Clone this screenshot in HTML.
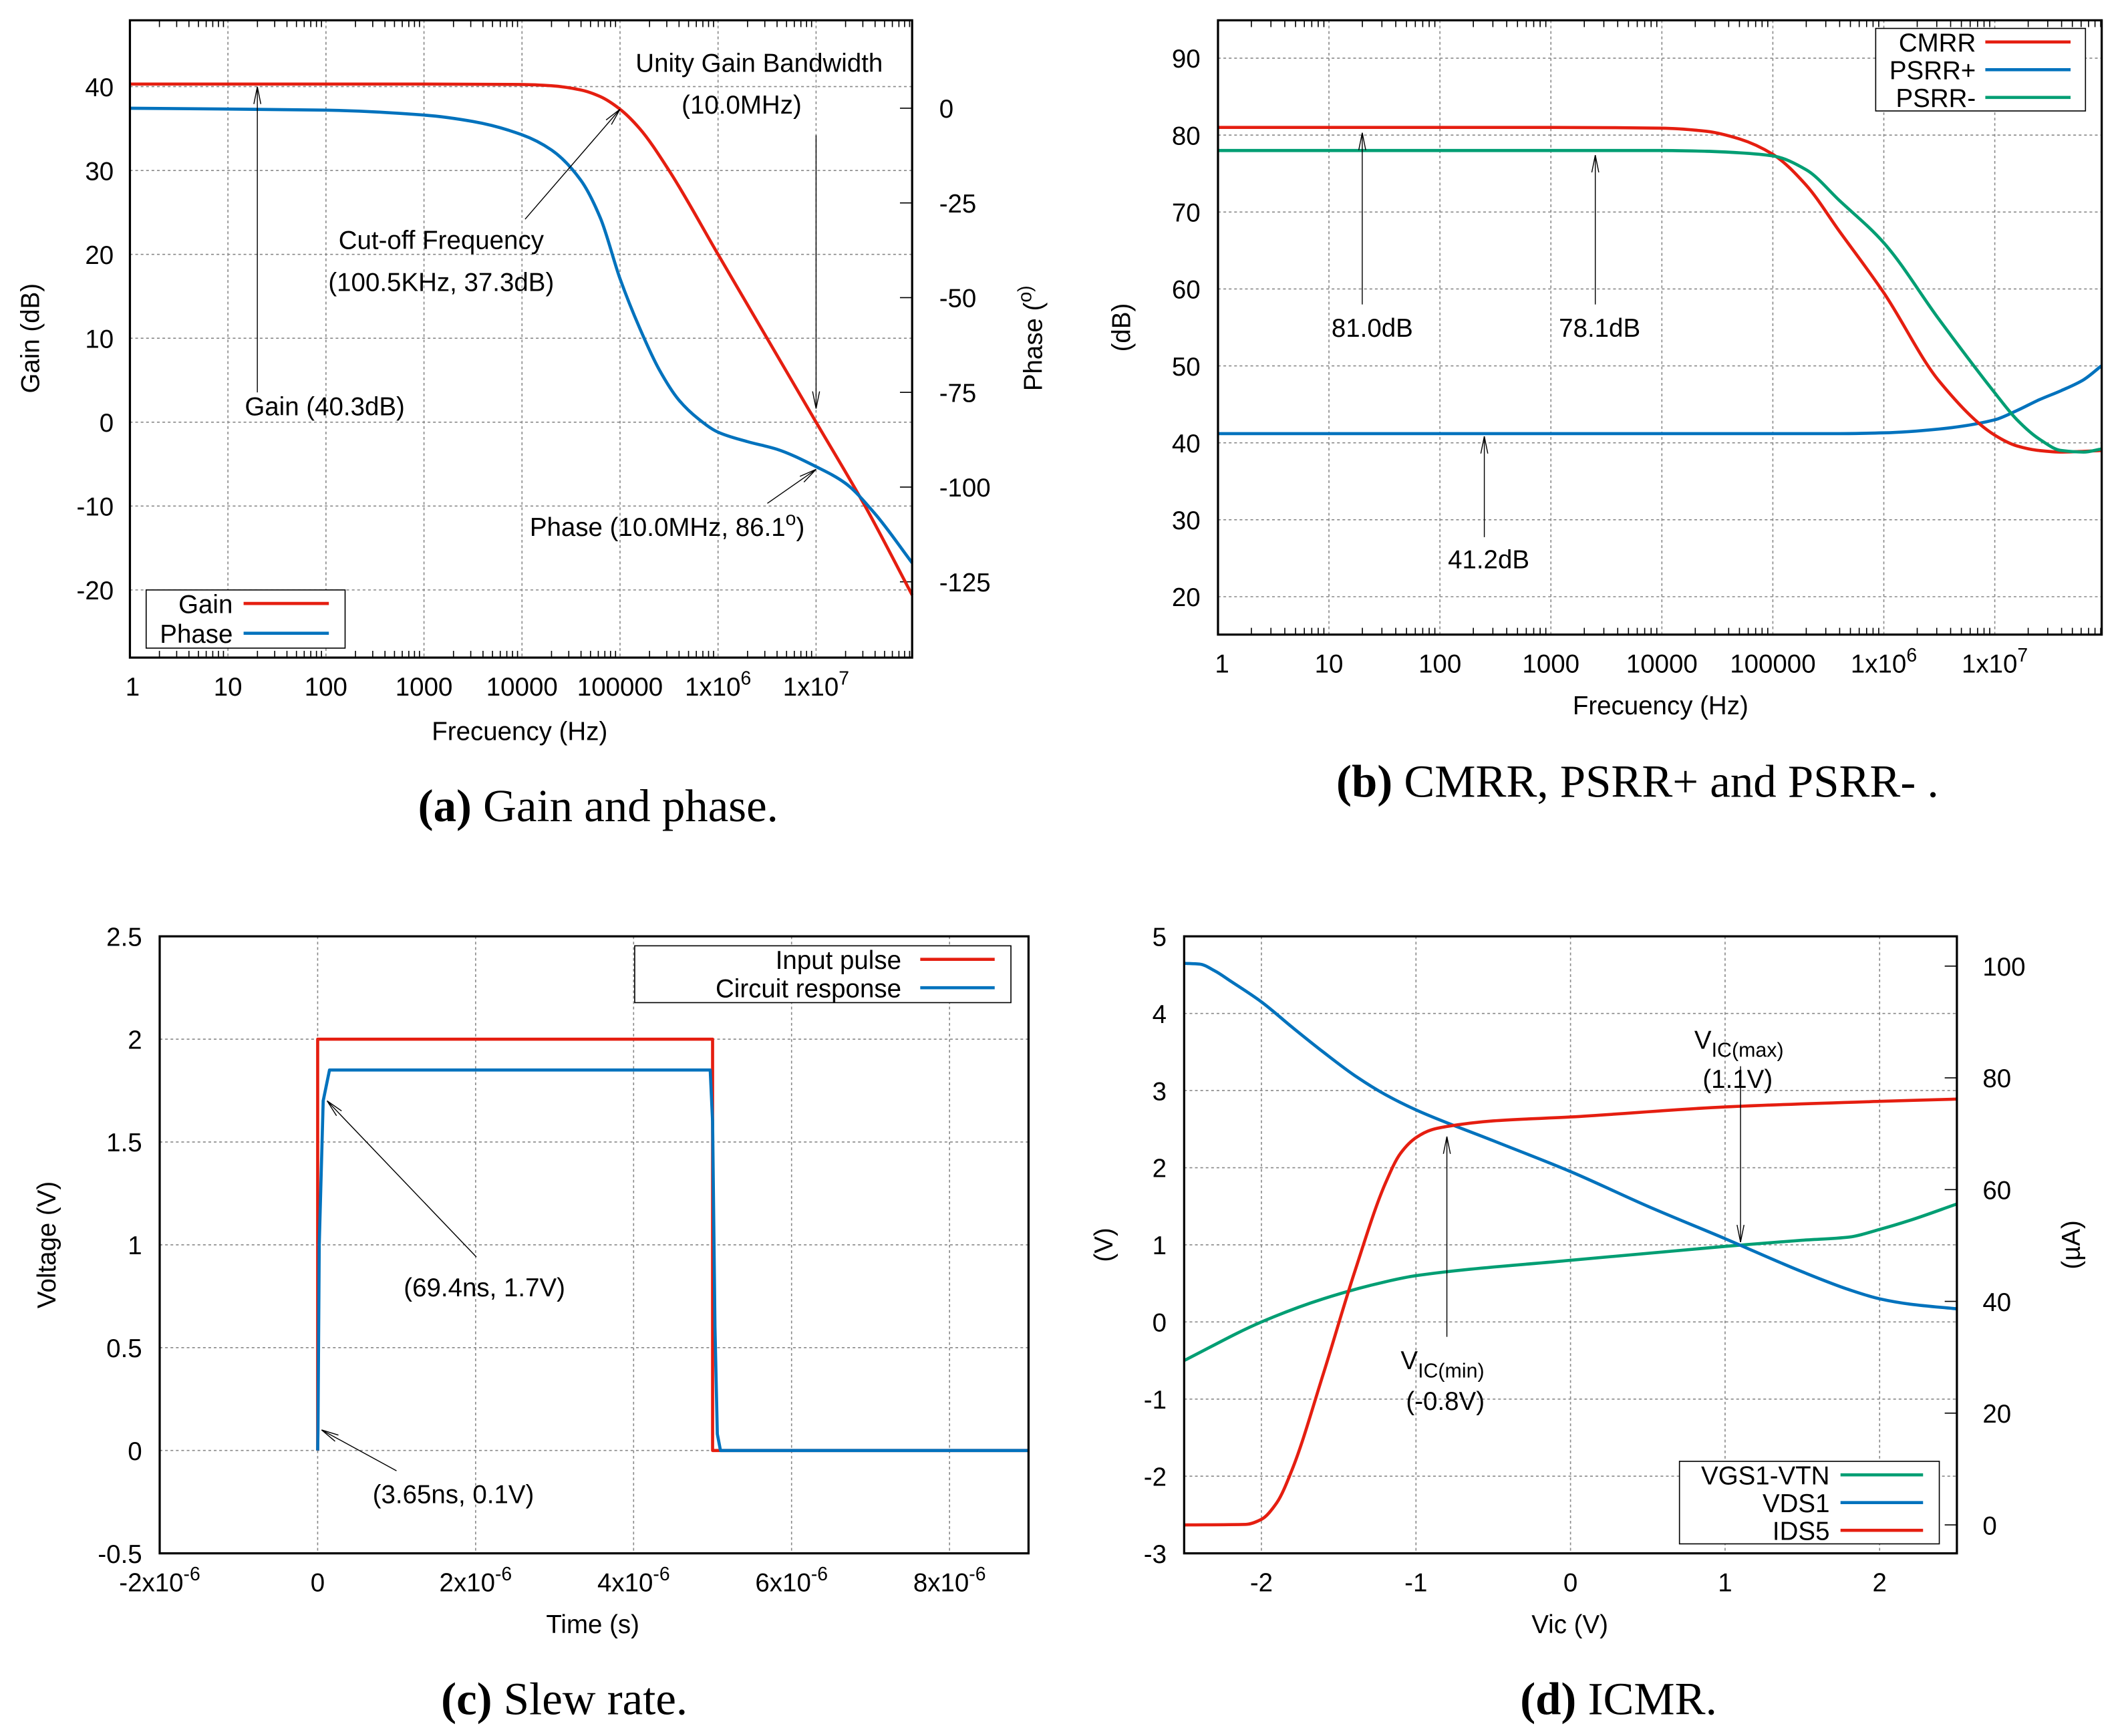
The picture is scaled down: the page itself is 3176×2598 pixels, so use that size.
<!DOCTYPE html>
<html><head><meta charset="utf-8">
<style>
html,body{margin:0;padding:0;background:#fff;}
svg{display:block;}
text{font-family:"Liberation Sans",sans-serif;fill:#000;}
.cap{font-family:"Liberation Serif",serif;font-size:34px;}
</style></head>
<body>
<svg id="root" xmlns="http://www.w3.org/2000/svg" width="3176" height="2598" viewBox="0 0 1568 1283" preserveAspectRatio="none">
<text class="cap" x="442" y="607" text-anchor="middle"><tspan font-weight="bold">(a)</tspan> Gain and phase.</text>
<text class="cap" x="1210" y="589" text-anchor="middle"><tspan font-weight="bold">(b)</tspan> CMRR, PSRR+ and PSRR- .</text>
<text class="cap" x="417" y="1267" text-anchor="middle"><tspan font-weight="bold">(c)</tspan> Slew rate.</text>
<text class="cap" x="1196" y="1267" text-anchor="middle"><tspan font-weight="bold">(d)</tspan> ICMR.</text>
</svg>
<script>
// ---- Chart (a) data: x = log10(frequency)
const aGainLogF = [0,3,4,4.3,4.6,4.8,5,5.2,5.5,6,6.5,7,7.5,7.98];
const aGainDB   = [40.3,40.3,40.25,40.1,39.6,38.8,37.3,35,30,20,10,0,-10,-20.6];
const aPhaseLogF= [0,2,3,3.5,4,4.3,4.6,4.8,5,5.2,5.4,5.6,5.8,6,6.3,6.6,7,7.3,7.6,7.98];
const aPhaseDeg = [0,-0.5,-1.8,-3.5,-7,-11,-19,-29,-45,-58,-69,-77,-82,-85.5,-88,-90,-94.6,-99,-107,-120];
const aGainTicks = [-20,-10,0,10,20,30,40];
const aPhaseTicks = [-125,-100,-75,-50,-25,0];
const logTickLabels = ["1","10","100","1000","10000","100000","1x10^6","1x10^7"];
// ---- Chart (b) data
const bLogF  = [0,3,4,4.4,4.7,5,5.3,5.6,6,6.5,7,7.2,7.4,7.6,7.8,7.96];
const bCMRR  = [81,81,80.9,80.5,79.5,77.5,73.5,67.5,59.5,48,41,39.6,39,38.8,38.9,39];
const bPSRRm = [78,78,78,77.9,77.7,77.3,75.5,71.5,66,56,46.5,43,40.5,39,38.8,39.2];
const bPSRRp = [41.2,41.2,41.2,41.2,41.2,41.2,41.2,41.2,41.3,41.8,43,44.2,45.6,46.8,48.2,50];
const bTicks = [20,30,40,50,60,70,80,90];
// ---- Chart (c) data (time in microseconds)
const cInT = [0,0,5,5,9];
const cInV = [0,2,2,0,0];
const cOutT = [0,0.004,0.02,0.07,0.15,4.97,5.0,5.03,5.06,5.1,9];
const cOutV = [0,0.1,1.0,1.7,1.85,1.85,1.6,0.6,0.08,0,0];
const cYTicks = [-0.5,0,0.5,1,1.5,2,2.5];
const cXTicks = [-2,0,2,4,6,8];
// ---- Chart (d) data
const dVic = [-2.5,-2.4,-2.3,-2.2,-2,-1.8,-1.6,-1.4,-1.2,-1,-0.5,0,0.5,1,1.5,1.8,2,2.2,2.5];
const dVDS1 = [4.65,4.64,4.55,4.42,4.15,3.82,3.5,3.2,2.95,2.75,2.35,1.95,1.5,1.08,0.65,0.42,0.3,0.23,0.17];
const dVgsVic = [-2.5,-2,-1.6,-1.2,-1,0,1,1.5,1.8,2,2.2,2.5];
const dVGS = [-0.5,0,0.3,0.52,0.6,0.8,0.98,1.06,1.1,1.2,1.32,1.53];
const dIdsVic = [-2.5,-2.1,-2,-1.9,-1.8,-1.6,-1.4,-1.2,-1.1,-1.0,-0.9,-0.8,-0.5,0,1,2,2.5];
const dIDS = [0,0.1,1,4,10,27,45,61,66.5,69.3,70.7,71.3,72.3,73,74.8,75.8,76.2];
const dLeftTicks = [-3,-2,-1,0,1,2,3,4,5];
const dRightTicks = [0,20,40,60,80,100];
const dXTicks = [-2,-1,0,1,2];

const NS="http://www.w3.org/2000/svg";
const root=document.getElementById('root');
const RED="#e51e10", BLUE="#0072bd", GREEN="#009e73";
function mk(tag,attrs,parent){const e=document.createElementNS(NS,tag);for(const k in attrs)e.setAttribute(k,attrs[k]);(parent||root).appendChild(e);return e;}
function lin(d0,d1,p0,p1){return v=>p0+(v-d0)*(p1-p0)/(d1-d0);}
function txt(x,y,s,anchor,size,parent,name){
  const t=mk('text',{x:x,y:y,'text-anchor':anchor||'middle','font-size':size||19},parent);
  
  
  const m=s.match(/^(.*)\^(.*)$/);
  if(m){t.appendChild(document.createTextNode(m[1]));const sp=mk('tspan',{dy:-8,'font-size':14},t);sp.textContent=m[2];}
  else t.textContent=s;
  return t;
}
function grid(g,x0,y0,x1,y1){mk('line',{x1:x0,y1:y0,x2:x1,y2:y1,stroke:'#888','stroke-width':0.8,'stroke-dasharray':'2,2'},g);}
function frame(g,L,T,R,B){const r=mk('rect',{x:L,y:T,width:R-L,height:B-T,fill:'none',stroke:'#000','stroke-width':1.6},g);
  
  }
function smoothPath(P){
  const n=P.length;if(n<3)return 'M'+P.map(p=>p.join(',')).join('L');
  const d=[],m=[];
  for(let i=0;i<n-1;i++)d.push((P[i+1][1]-P[i][1])/(P[i+1][0]-P[i][0]));
  m[0]=d[0];m[n-1]=d[n-2];
  for(let i=1;i<n-1;i++){if(d[i-1]*d[i]<=0)m[i]=0;else{const h0=P[i][0]-P[i-1][0],h1=P[i+1][0]-P[i][0];m[i]=3*(h0+h1)/((2*h1+h0)/d[i-1]+(h1+2*h0)/d[i]);}}
  let s='M'+P[0][0].toFixed(2)+','+P[0][1].toFixed(2);
  for(let i=0;i<n-1;i++){const h=(P[i+1][0]-P[i][0])/3;
    s+=' C'+(P[i][0]+h).toFixed(2)+','+(P[i][1]+m[i]*h).toFixed(2)+' '+(P[i+1][0]-h).toFixed(2)+','+(P[i+1][1]-m[i+1]*h).toFixed(2)+' '+P[i+1][0].toFixed(2)+','+P[i+1][1].toFixed(2);}
  return s;
}
function series(g,xs,ys,fx,fy,col,name,smooth){
  let p;
  if(smooth){p=mk('path',{d:smoothPath(xs.map((x,i)=>[fx(x),fy(ys[i])])),fill:'none',stroke:col,'stroke-width':2.3,'stroke-linejoin':'round'},g);}
  else p=mk('polyline',{points:xs.map((x,i)=>fx(x).toFixed(2)+','+fy(ys[i]).toFixed(2)).join(' '),fill:'none',stroke:col,'stroke-width':2.3,'stroke-linejoin':'round'},g);
  
  }
function arrow(g,x0,y0,x1,y1){
  mk('line',{x1:x0,y1:y0,x2:x1,y2:y1,stroke:'#000','stroke-width':0.7},g);
  const a=Math.atan2(y1-y0,x1-x0),L=13,w=0.2;
  mk('line',{x1:x1,y1:y1,x2:x1-L*Math.cos(a-w),y2:y1-L*Math.sin(a-w),stroke:'#000','stroke-width':0.7},g);
  mk('line',{x1:x1,y1:y1,x2:x1-L*Math.cos(a+w),y2:y1-L*Math.sin(a+w),stroke:'#000','stroke-width':0.7},g);
}
function legend(g,x,y,w,h,entries,textR,l0,l1,dy){
  const r=mk('rect',{x:x,y:y,width:w,height:h,fill:'#fff',stroke:'#000','stroke-width':0.8},g);
  
  
  entries.forEach((e,i)=>{const yy=y+10+i*dy;
    txt(textR,yy+7,e[0],'end',19,g,'legend-entry');
    const ln=mk('line',{x1:l0,y1:yy,x2:l1,y2:yy,stroke:e[1],'stroke-width':2.3},g);
    
    });
}
function minorLog(g,fx,L,B,T,xmax){for(let d=0;d<Math.ceil(xmax);d++)for(let k=2;k<=9;k++){const v=d+Math.log10(k);if(v>xmax)break;const x=fx(v);
  mk('line',{x1:x,y1:B,x2:x,y2:B-5,stroke:'#000','stroke-width':0.8},g);mk('line',{x1:x,y1:T,x2:x,y2:T+5,stroke:'#000','stroke-width':0.8},g);}}

// ===== Chart A =====
(function(){
  const g=mk('g',{});
  const L=96,R=674,T=15,B=486,xmax=7.98;
  const fx=lin(0,xmax,L,R), fy=lin(40,-20,64,436), fp=lin(0,-125,80,430);
  aGainTicks.forEach(v=>{grid(g,L,fy(v),R,fy(v));txt(L-12,fy(v)+7,String(v),'end',19,g,'y-tick-label');});
  logTickLabels.forEach((s,i)=>{grid(g,fx(i),T,fx(i),B);txt(fx(i)+(i===0?2:0),B+28,s,'middle',19,g,'x-tick-label');});
  aPhaseTicks.forEach(v=>{mk('line',{x1:R,y1:fp(v),x2:R-9,y2:fp(v),stroke:'#000','stroke-width':0.8},g);txt(R+20,fp(v)+7,String(v),'start',19,g,'y2-tick-label');});
  minorLog(g,fx,L,B,T,xmax);
  series(g,aGainLogF,aGainDB,fx,fy,RED,'gain-line',true);
  series(g,aPhaseLogF,aPhaseDeg,fx,fp,BLUE,'phase-line',true);
  frame(g,L,T,R,B);
  txt(384,547,'Frecuency (Hz)','middle',19,g,'x-axis-title');
  const yt=txt(0,0,'Gain (dB)','middle',19,g,'y-axis-title');yt.setAttribute('transform','translate(29,250) rotate(-90)');
  const pt=txt(0,0,'Phase (^o)','middle',19,g,'y2-axis-title');pt.setAttribute('transform','translate(770,250) rotate(-90)');
  arrow(g,fx(1.3),290,fx(1.3),fy(40.3)+2);txt(240,307,'Gain (40.3dB)','middle',19,g,'annotation-gain');
  arrow(g,388,162,fx(5),fy(37.3));txt(326,184,'Cut-off Frequency','middle',19,g,'annotation-cutoff');txt(326,215,'(100.5KHz, 37.3dB)','middle',19,g,'annotation-cutoff-value');
  txt(561,53,'Unity Gain Bandwidth','middle',19,g,'annotation-ugb');txt(548,84,'(10.0MHz)','middle',19,g,'annotation-ugb-value');
  arrow(g,fx(7),100,fx(7),fy(0)-10);
  arrow(g,567,372,fx(7),fp(-94.6)+2);
  const ph=txt(493,396,'Phase (10.0MHz, 86.1','middle',19,g,'annotation-phase');
  const s1=mk('tspan',{dy:-8,'font-size':14},ph);s1.textContent='o';const s2=mk('tspan',{dy:8},ph);s2.textContent=')';
  legend(g,108,436,147,43,[['Gain',RED],['Phase',BLUE]],172,180,243,22);
})();

// ===== Chart B =====
(function(){
  const g=mk('g',{});
  const L=900,R=1553,T=15,B=469,xmax=7.96;
  const fx=lin(0,7,L,1474), fy=lin(90,20,43,441);
  bTicks.forEach(v=>{grid(g,L,fy(v),R,fy(v));txt(L-13,fy(v)+7,String(v),'end',19,g,'y-tick-label');});
  logTickLabels.forEach((s,i)=>{grid(g,fx(i),T,fx(i),B);txt(fx(i)+(i===0?3:0),B+28,s,'middle',19,g,'x-tick-label');});
  minorLog(g,fx,L,B,T,xmax);
  series(g,bLogF,bPSRRp,fx,fy,BLUE,'psrr-plus-line',true);
  series(g,bLogF,bCMRR,fx,fy,RED,'cmrr-line',true);
  series(g,bLogF,bPSRRm,fx,fy,GREEN,'psrr-minus-line',true);
  frame(g,L,T,R,B);
  txt(1227,528,'Frecuency (Hz)','middle',19,g,'x-axis-title');
  const yt=txt(0,0,'(dB)','middle',19,g,'y-axis-title');yt.setAttribute('transform','translate(835,242) rotate(-90)');
  arrow(g,fx(1.3),225,fx(1.3),fy(81)+4);txt(1014,249,'81.0dB','middle',19,g,'annotation-cmrr');
  arrow(g,fx(3.4),225,fx(3.4),fy(78.1)+4);txt(1182,249,'78.1dB','middle',19,g,'annotation-psrr-minus');
  arrow(g,fx(2.4),397,fx(2.4),fy(41.2)+2);txt(1100,420,'41.2dB','middle',19,g,'annotation-psrr-plus');
  legend(g,1386,21,155,61,[['CMRR',RED],['PSRR+',BLUE],['PSRR-',GREEN]],1460,1467,1530,20.5);
})();

// ===== Chart C =====
(function(){
  const g=mk('g',{});
  const L=118,R=760,T=692,B=1148;
  const fx=lin(-2,9,L,R), fy=lin(2.5,-0.5,T,B);
  cYTicks.forEach(v=>{grid(g,L,fy(v),R,fy(v));txt(L-13,fy(v)+7,String(v),'end',19,g,'y-tick-label');});
  cXTicks.forEach(v=>{if(v>-2)grid(g,fx(v),T,fx(v),B);txt(fx(v),B+28,v===0?'0':v+'x10^-6','middle',19,g,'x-tick-label');});
  series(g,cInT,cInV,fx,fy,RED,'input-pulse-line',false);
  series(g,cOutT,cOutV,fx,fy,BLUE,'circuit-response-line',false);
  frame(g,L,T,R,B);
  txt(438,1207,'Time (s)','middle',19,g,'x-axis-title');
  const yt=txt(0,0,'Voltage (V)','middle',19,g,'y-axis-title');yt.setAttribute('transform','translate(41,920) rotate(-90)');
  arrow(g,352,929,fx(0.12),fy(1.7));txt(358,958,'(69.4ns, 1.7V)','middle',19,g,'annotation-69ns');
  arrow(g,293,1087,fx(0.05),fy(0.1));txt(335,1111,'(3.65ns, 0.1V)','middle',19,g,'annotation-3ns');
  legend(g,469,699,278,42,[['Input pulse',RED],['Circuit response',BLUE]],666,680,735,21);
})();

// ===== Chart D =====
(function(){
  const g=mk('g',{});
  const L=875,R=1446,T=692,B=1148;
  const fx=lin(-2.5,2.5,L,R), fy=lin(5,-3,T,B), fr=lin(100,0,714,1127);
  dLeftTicks.forEach(v=>{grid(g,L,fy(v),R,fy(v));txt(L-13,fy(v)+7,String(v),'end',19,g,'y-tick-label');});
  dXTicks.forEach(v=>{grid(g,fx(v),T,fx(v),B);txt(fx(v),B+28,String(v),'middle',19,g,'x-tick-label');});
  dRightTicks.forEach(v=>{mk('line',{x1:R,y1:fr(v),x2:R-9,y2:fr(v),stroke:'#000','stroke-width':0.8},g);txt(R+19,fr(v)+7,String(v),'start',19,g,'y2-tick-label');});
  series(g,dVgsVic,dVGS,fx,fy,GREEN,'vgs1-vtn-line',true);
  series(g,dVic,dVDS1,fx,fy,BLUE,'vds1-line',true);
  series(g,dIdsVic,dIDS,fx,fr,RED,'ids5-line',true);
  frame(g,L,T,R,B);
  txt(1160,1207,'Vic (V)','middle',19,g,'x-axis-title');
  const yt=txt(0,0,'(V)','middle',19,g,'y-axis-title');yt.setAttribute('transform','translate(822,920) rotate(-90)');
  const y2=txt(0,0,'(µA)','middle',19,g,'y2-axis-title');y2.setAttribute('transform','translate(1537,920) rotate(-90)');
  arrow(g,fx(-0.8),988,fx(-0.8),840);
  const t1=txt(1035,1012,'V','start',19,g,'annotation-vicmin');const s=mk('tspan',{dy:6,'font-size':15},t1);s.textContent='IC(min)';
  txt(1068,1042,'(-0.8V)','middle',19,g,'annotation-vicmin-value');
  arrow(g,fx(1.1),788,fx(1.1),fy(1)-2);
  const t2=txt(1252,775,'V','start',19,g,'annotation-vicmax');const s2=mk('tspan',{dy:6,'font-size':15},t2);s2.textContent='IC(max)';
  txt(1284,804,'(1.1V)','middle',19,g,'annotation-vicmax-value');
  legend(g,1241,1080,192,61,[['VGS1-VTN',GREEN],['VDS1',BLUE],['IDS5',RED]],1352,1360,1421,20.5);
})();
</script>
</body></html>
